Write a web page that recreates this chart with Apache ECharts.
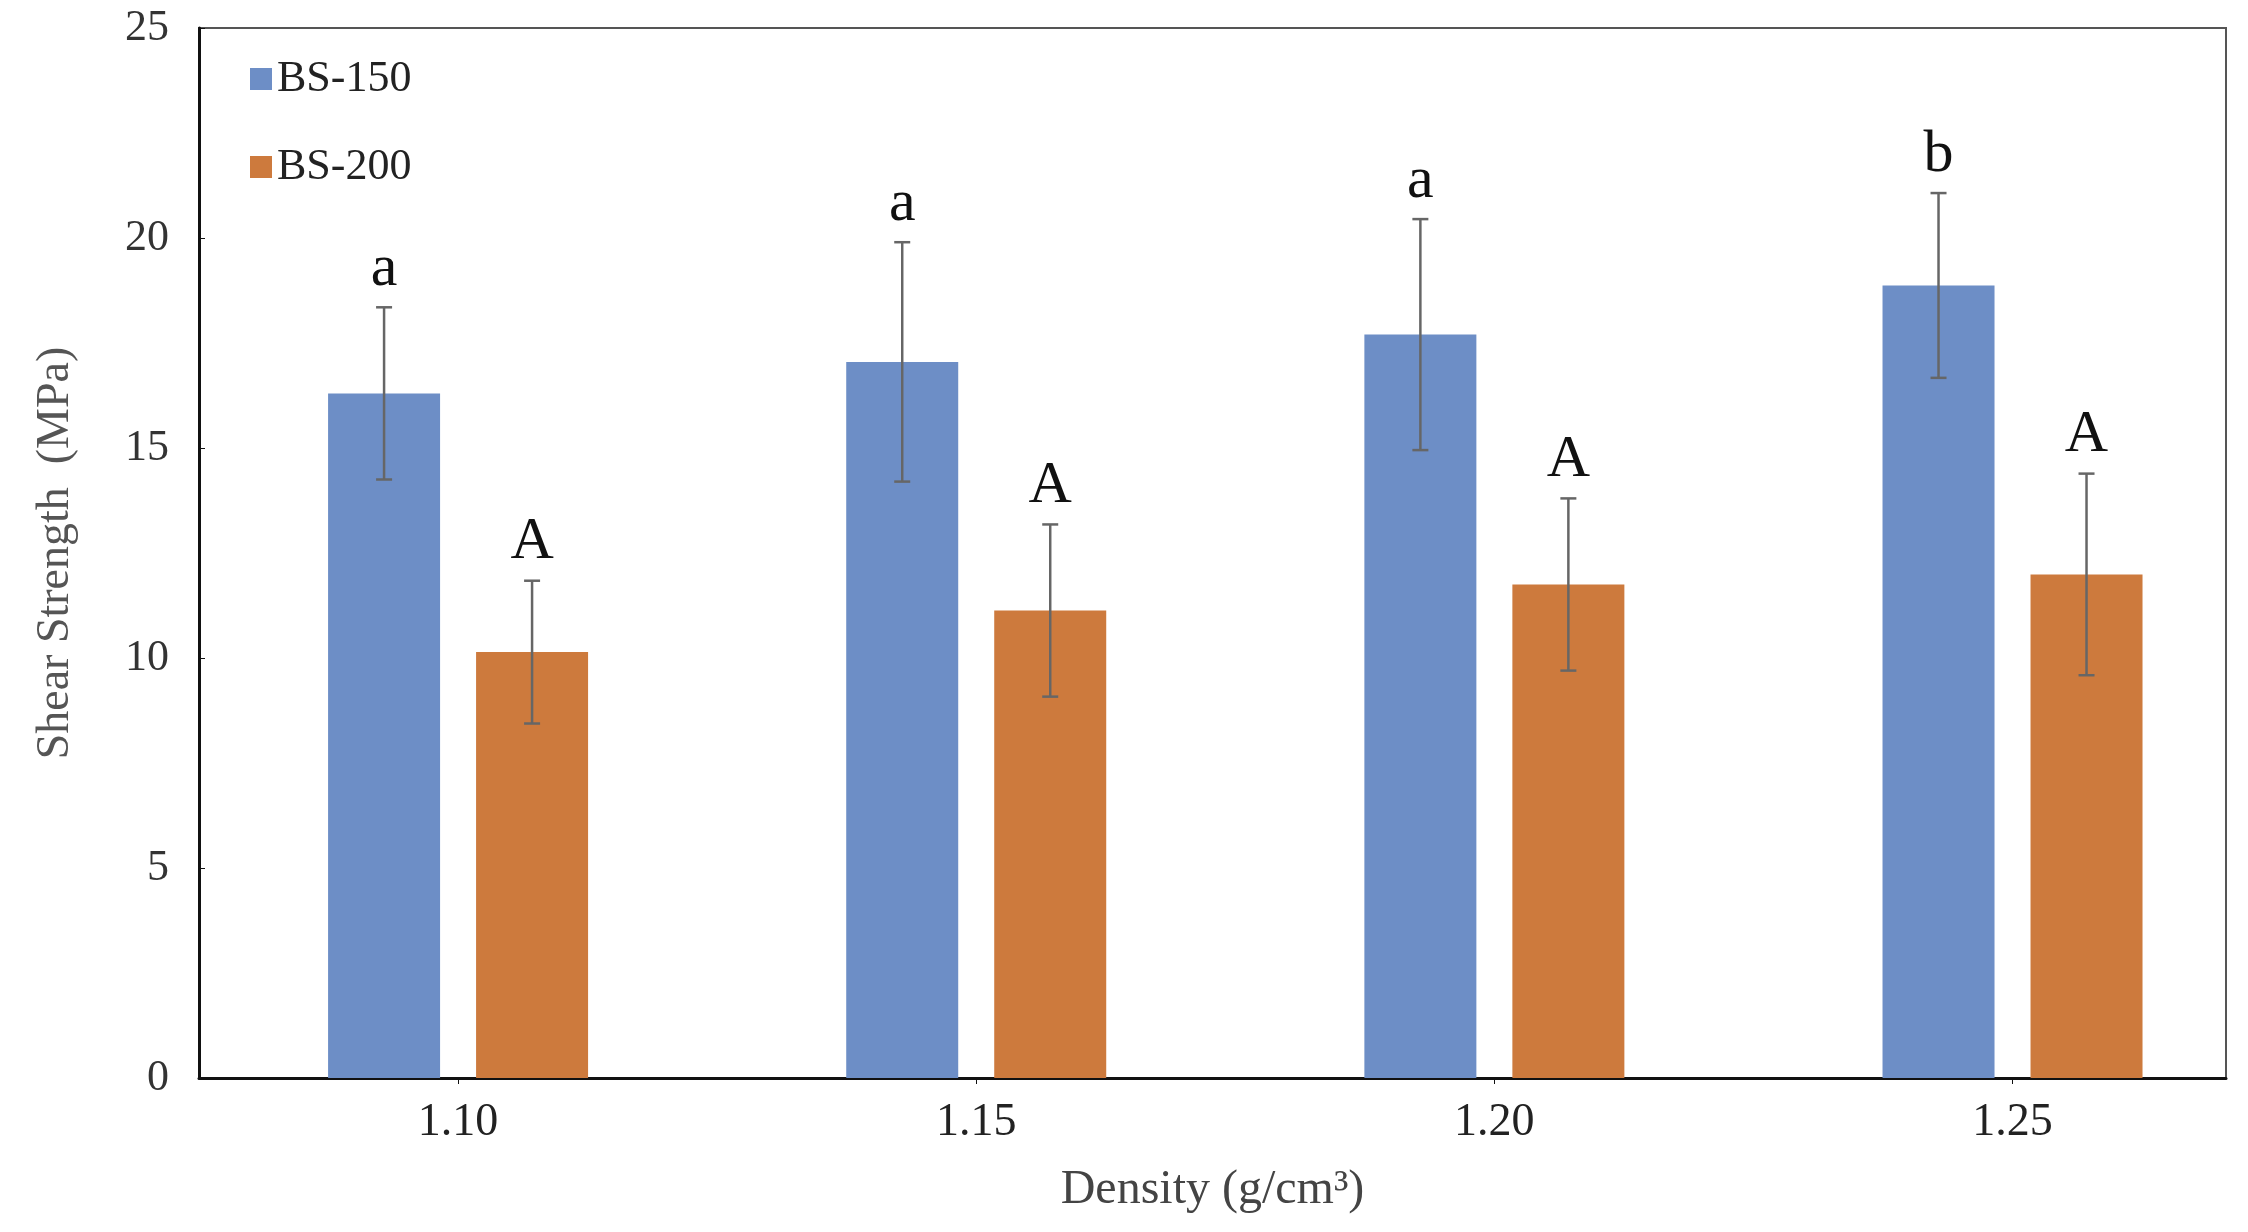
<!DOCTYPE html>
<html><head><meta charset="utf-8">
<script src="https://cdn.jsdelivr.net/npm/echarts@6/dist/echarts.min.js"></script>
<style>html,body{margin:0;padding:0;background:#fff}#c{width:2248px;height:1232px}</style>
</head><body><div id="c"></div>
<script>
const densities = [1.10, 1.15, 1.20, 1.25];
const xLabels = ['1.10', '1.15', '1.20', '1.25'];
const bs150 = [16.3, 17.05, 17.7, 18.87];
const bs150Err = [2.05, 2.85, 2.75, 2.2];
const bs150Letters = ['a', 'a', 'a', 'b'];
const bs200 = [10.14, 11.13, 11.75, 11.99];
const bs200Err = [1.7, 2.05, 2.05, 2.4];
const bs200Letters = ['A', 'A', 'A', 'A'];

const font = 'Liberation Serif';
function makeSeries(name, vals, errs, letters, color, offset) {
  return {
    name: name, type: 'custom', itemStyle: {color: color},
    data: densities.map((d, i) => [d, vals[i], errs[i], letters[i]]),
    renderItem: function (params, api) {
      const x = api.value(0), v = api.value(1), e = api.value(2);
      const letter = letters[params.dataIndex];
      const base = api.coord([x, 0]);
      const top = api.coord([x, v]);
      const hi = api.coord([x, v + e]);
      const lo = api.coord([x, v - e]);
      const cx = base[0] + offset, w = 112, cap = 8;
      return {type: 'group', children: [
        {type: 'rect', shape: {x: cx - w / 2, y: top[1], width: w, height: base[1] - top[1]},
         style: {fill: color}},
        {type: 'line', shape: {x1: cx, y1: hi[1], x2: cx, y2: lo[1]}, style: {stroke: '#666', lineWidth: 2.5}},
        {type: 'line', shape: {x1: cx - cap, y1: hi[1], x2: cx + cap, y2: hi[1]}, style: {stroke: '#666', lineWidth: 2.5}},
        {type: 'line', shape: {x1: cx - cap, y1: lo[1], x2: cx + cap, y2: lo[1]}, style: {stroke: '#666', lineWidth: 2.5}},
        {type: 'text', x: cx, y: hi[1] - 8, style: {text: letter, fill: '#111', font: '60px "' + font + '"', align: 'center', verticalAlign: 'bottom'}}
      ]};
    }
  };
}
const chart = echarts.init(document.getElementById('c'));
chart.setOption({
  animation: false,
  grid: {left: 199, right: 22, top: 28, bottom: 154, show: true, borderColor: '#555', borderWidth: 2},
  legend: {left: 245, top: 52, orient: 'vertical', itemGap: 44, icon: 'rect', itemWidth: 22, itemHeight: 22,
    textStyle: {fontFamily: font, fontSize: 44, color: '#222'},
    data: [{name: 'BS-150'}, {name: 'BS-200'}]},
  xAxis: {type: 'value', min: 1.075, max: 1.2706,
    axisLine: {show: true, lineStyle: {color: '#111', width: 3}},
    axisTick: {show: true, customValues: densities, length: 6, lineStyle: {color: '#111'}},
    splitLine: {show: false},
    axisLabel: {customValues: densities, formatter: v => v.toFixed(2), fontFamily: font, fontSize: 46, color: '#222', margin: 22},
    name: 'Density (g/cm³)', nameLocation: 'middle', nameGap: 88,
    nameTextStyle: {fontFamily: font, fontSize: 48, color: '#444'}},
  yAxis: {type: 'value', min: 0, max: 25, interval: 5,
    axisLine: {show: true, lineStyle: {color: '#111', width: 3}},
    axisTick: {show: true, inside: true, length: 6, lineStyle: {color: '#111'}},
    splitLine: {show: false},
    axisLabel: {fontFamily: font, fontSize: 44, color: '#333', margin: 30},
    name: 'Shear Strength  (MPa)', nameLocation: 'middle', nameGap: 120,
    nameTextStyle: {fontFamily: font, fontSize: 46, color: '#555'}},
  series: [
    makeSeries('BS-150', bs150, bs150Err, bs150Letters, '#6d8ec6', -74),
    makeSeries('BS-200', bs200, bs200Err, bs200Letters, '#cd7a3d', 74)
  ]
});
</script></body></html>
